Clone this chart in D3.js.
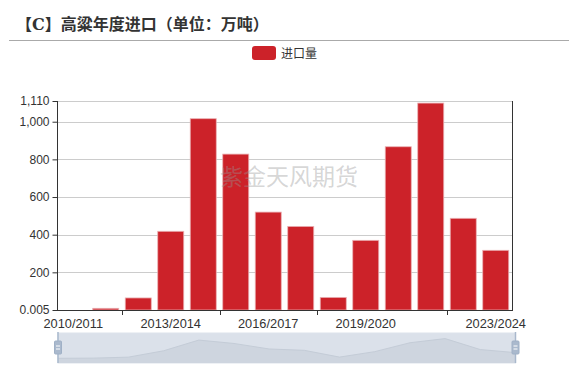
<!DOCTYPE html>
<html><head><meta charset="utf-8">
<script src="https://cdn.jsdelivr.net/npm/d3@7"></script>
<style>
html,body{margin:0;padding:0;background:#fff;}
svg{display:block;font-family:"Liberation Sans",Arial,sans-serif;}
</style></head>
<body>
<svg id="c" width="579" height="370"></svg>
<script>
const categories = ["2010/2011","2011/2012","2012/2013","2013/2014","2014/2015","2015/2016","2016/2017","2017/2018","2018/2019","2019/2020","2020/2021","2021/2022","2022/2023","2023/2024"];
const imports = [0.005, 9, 64, 418, 1016, 828, 520, 444, 67, 370, 867, 1099, 487, 317];
const yTickValues = [0.005, 200, 400, 600, 800, 1000, 1110];
const xLabelCats = ["2010/2011","2013/2014","2016/2017","2019/2020","2023/2024"];
const xTickCats = ["2012/2013","2015/2016","2018/2019","2022/2023"];
const title = "【C】高粱年度进口（单位：万吨）";
const seriesName = "进口量";
const watermark = "紫金天风期货";

const svg = d3.select("#c");
const pL = 57, pR = 512, pT = 101, pB = 310;

// title
svg.append("text").attr("x", 16).attr("y", 30)
  .attr("font-family", '"DejaVu Serif", "Noto Sans CJK SC", serif').attr("font-weight", "bold")
  .attr("font-size", 16).attr("fill", "#333").text(title);
svg.append("line").attr("x1", 9).attr("x2", 569).attr("y1", 40.5).attr("y2", 40.5)
  .attr("stroke", "#aaa").attr("stroke-width", 1);

// legend
svg.append("rect").attr("x", 252).attr("y", 46).attr("width", 24).attr("height", 14)
  .attr("rx", 3).attr("fill", "#cc2229");
svg.append("text").attr("x", 281).attr("y", 57.5)
  .attr("font-family", '"Noto Sans CJK SC", sans-serif')
  .attr("font-size", 12).attr("fill", "#333").text(seriesName);

const x = d3.scaleBand().domain(categories).range([pL, pR]).paddingInner(0.2).paddingOuter(0.1);
const xb = d3.scaleBand().domain(categories).range([pL, pR]);
const y = d3.scaleLinear().domain([0.005, 1110]).range([pB, pT]);

// grid
svg.append("g").selectAll("line").data(yTickValues.filter(v => v > 0.01)).join("line")
  .attr("x1", pL).attr("x2", pR)
  .attr("y1", d => Math.round(y(d)) + 0.5).attr("y2", d => Math.round(y(d)) + 0.5)
  .attr("stroke", "#ccc");

// bars
svg.append("g").selectAll("rect").data(categories).join("rect")
  .attr("x", (d) => x(d))
  .attr("width", x.bandwidth())
  .attr("y", (d, i) => y(imports[i]))
  .attr("height", (d, i) => pB - y(imports[i]))
  .attr("fill", "#cc2229")
  .attr("stroke", "#eab0b3").attr("stroke-width", 0.8);

// y axis
const yAxis = d3.axisLeft(y).tickValues(yTickValues).tickSize(5).tickPadding(3)
  .tickFormat(d => d < 1 ? "0.005" : d3.format(",")(d));
const gy = svg.append("g").attr("transform", `translate(${pL + 0.5},0)`).call(yAxis);
gy.select(".domain").attr("stroke", "#333").attr("d", `M0,${pT}V${pB}`);
gy.selectAll(".tick line").attr("stroke", "#333");
gy.selectAll(".tick text").attr("font-size", 12).attr("fill", "#333")
  .attr("font-family", '"Liberation Sans",Arial,sans-serif');

// right axis line
svg.append("line").attr("x1", pR + 0.5).attr("x2", pR + 0.5).attr("y1", pT).attr("y2", pB)
  .attr("stroke", "#333");

// x axis
svg.append("line").attr("x1", pL).attr("x2", pR + 1).attr("y1", pB + 0.5).attr("y2", pB + 0.5)
  .attr("stroke", "#333");
svg.append("g").selectAll("line").data(xTickCats).join("line")
  .attr("x1", d => Math.round(xb(d)) + 0.5).attr("x2", d => Math.round(xb(d)) + 0.5)
  .attr("y1", pB).attr("y2", pB + 5).attr("stroke", "#333");
svg.append("g").selectAll("text").data(xLabelCats).join("text")
  .attr("x", d => xb(d) + xb.bandwidth() / 2).attr("y", 327.5)
  .attr("text-anchor", "middle").attr("font-size", 12.8).attr("fill", "#333")
  .text(d => d);

// watermark
svg.append("text").attr("x", 289).attr("y", 185).attr("text-anchor", "middle")
  .attr("font-family", '"Noto Sans CJK SC", sans-serif')
  .attr("font-size", 23).attr("fill", "rgba(150,150,150,0.4)").text(watermark);

// data zoom slider
const sx = d3.scalePoint().domain(categories).range([58, 515.5]);
const sy = d3.scaleLinear().domain([0, 1099]).range([358.3, 338.6]);
svg.append("rect").attr("x", 58).attr("y", 333).attr("width", 457.5).attr("height", 30)
  .attr("fill", "#dbe1ea").attr("stroke", "#dde3ec");
const area = d3.area().x((d, i) => sx(categories[i])).y0(363).y1(d => sy(d));
const line = d3.line().x((d, i) => sx(categories[i])).y(d => sy(d));
svg.append("path").attr("d", area(imports)).attr("fill", "#ced5df");
svg.append("path").attr("d", line(imports)).attr("fill", "none").attr("stroke", "#c4ccd7").attr("stroke-width", 1);
[58, 515.5].forEach(hx => {
  svg.append("line").attr("x1", hx).attr("x2", hx).attr("y1", 332).attr("y2", 363)
    .attr("stroke", "#a9b8cc").attr("stroke-width", 1.5);
  svg.append("rect").attr("x", hx - 3.5).attr("y", 341).attr("width", 7).attr("height", 13)
    .attr("rx", 1).attr("fill", "#aab9cd").attr("stroke", "#9fb0c6");
  svg.append("line").attr("x1", hx - 2).attr("x2", hx + 2).attr("y1", 346).attr("y2", 346).attr("stroke", "#fff");
  svg.append("line").attr("x1", hx - 2).attr("x2", hx + 2).attr("y1", 349).attr("y2", 349).attr("stroke", "#fff");
});
</script>
</body></html>
